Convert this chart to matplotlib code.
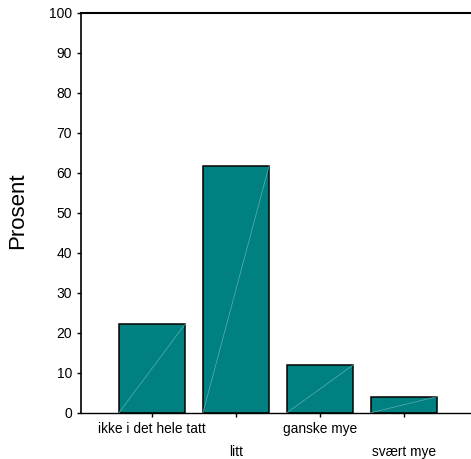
import matplotlib
matplotlib.use("Agg")
import matplotlib.pyplot as plt
import numpy as np

categories = ["ikke i det hele tatt", "litt", "ganske mye", "svært mye"]
values = [22.1, 61.6, 11.9, 4.0]
yticks = [0, 10, 20, 30, 40, 50, 60, 70, 80, 90, 100]

plt.rcParams['font.family'] = ['Liberation Sans', 'DejaVu Sans']

fig = plt.figure(figsize=(4.71, 4.59), dpi=100)
ax = fig.add_axes([80.5/471, (459-412.7)/459, 1 - 80.5/471, (412.7-12.5)/459])

x = np.arange(len(categories))
width = 0.786
bars = ax.bar(x, values, width=width, color='#008080', edgecolor='black', linewidth=1.1, zorder=2)
for xi, v in zip(x, values):
    ax.plot([xi - width/2, xi + width/2], [0, v], color='#5fb0b0', lw=0.5, zorder=3)

ax.set_xlim(-0.851, 3.798)
ax.set_ylim(0, 100)
ax.set_yticks(yticks)
ax.set_yticklabels([str(t) for t in yticks], fontsize=10)
ax.set_xticks(x)
ax.set_xticklabels(categories, fontsize=9.9)
for i, t in enumerate(ax.get_xticklabels()):
    if i % 2 == 1:
        t.set_y(-0.0575)
ax.tick_params(axis='both', direction='out', length=3, width=1, color='black', pad=3)
ax.tick_params(axis='x', pad=4)
ax.set_ylabel("Prosent", fontsize=16)
ax.yaxis.set_label_coords(-0.1345, 0.505)

ax.spines['right'].set_visible(False)
ax.spines['top'].set_linewidth(1.5)
ax.spines['left'].set_linewidth(1.2)
ax.spines['bottom'].set_linewidth(1.0)

fig.savefig("out.png", dpi=100)
